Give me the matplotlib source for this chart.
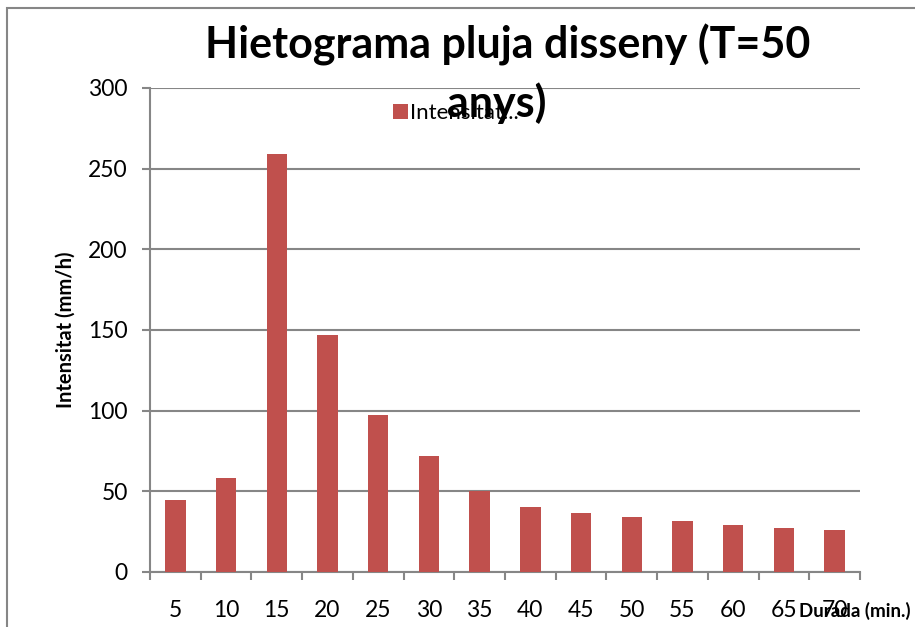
import numpy as np
import matplotlib
matplotlib.use("Agg")
import matplotlib.pyplot as plt
from matplotlib.patches import Rectangle

# data
durada = ["5", "10", "15", "20", "25", "30", "35", "40", "45", "50", "55", "60", "65", "70"]
intensitat = [44.5, 58.3, 259, 147, 97.1, 72, 50.0, 40.1, 36.8, 33.9, 31.4, 29.3, 27.1, 25.9]

bar_color = "#C0504D"
grid_color = "#868686"

plt.rcParams["font.family"] = ["Lato", "DejaVu Sans"]

fig = plt.figure(figsize=(9.15, 6.27), dpi=100)
ax = fig.add_axes([150 / 915, 1 - 572 / 627, 710 / 915, 484 / 627])

x = np.arange(len(durada))
ax.bar(x, intensitat, width=0.4, color=bar_color, zorder=3, label="Intensitat...")

ax.set_xlim(-0.5, len(durada) - 0.5)
ax.set_ylim(0, 300)
ax.set_yticks(np.arange(0, 301, 50))
ax.set_xticks(x)
ax.set_xticklabels(durada, fontsize=16.5)
ax.set_xticks(np.arange(-0.5, len(durada), 1), minor=True)
ax.tick_params(axis="x", which="major", length=0, pad=20)
ax.tick_params(axis="x", which="minor", length=6, width=1.5, color=grid_color, direction="out")
ax.tick_params(axis="y", length=6, width=1.5, color=grid_color, labelsize=16.5, pad=10)

ax.grid(axis="y", color=grid_color, linewidth=1.5, zorder=0)
for side in ["top", "right"]:
    ax.spines[side].set_visible(False)
for side in ["left", "bottom"]:
    ax.spines[side].set_color(grid_color)
    ax.spines[side].set_linewidth(1.5)

fig.text(66 / 915, 1 - 330 / 627, "Intensitat (mm/h)", fontsize=14.5, fontweight="bold",
         rotation=90, ha="center", va="center")
fig.text(855 / 915, 1 - 611 / 627, "Durada (min.)", fontsize=13.5, fontweight="bold",
         ha="center", va="center")

fig.text(508 / 915, 1 - 45 / 627, "Hietograma pluja disseny (T=50", fontsize=31,
         fontweight="bold", ha="center", va="center")
fig.text(497 / 915, 1 - 103 / 627, "anys)", fontsize=31, fontweight="bold",
         ha="center", va="center", zorder=5)

ax.legend(loc="center left", bbox_to_anchor=(382 / 915, 1 - 113 / 627),
          bbox_transform=fig.transFigure, frameon=False, fontsize=16,
          handlelength=0.65, handleheight=0.65, handletextpad=0.1, borderpad=0)

# chart area border
fig.patches.append(Rectangle((7 / 915, -0.1), 1.2, 1.1 - 8 / 627, transform=fig.transFigure,
                             fill=False, edgecolor=grid_color, linewidth=1.5))

fig.savefig("out.png", dpi=100)
